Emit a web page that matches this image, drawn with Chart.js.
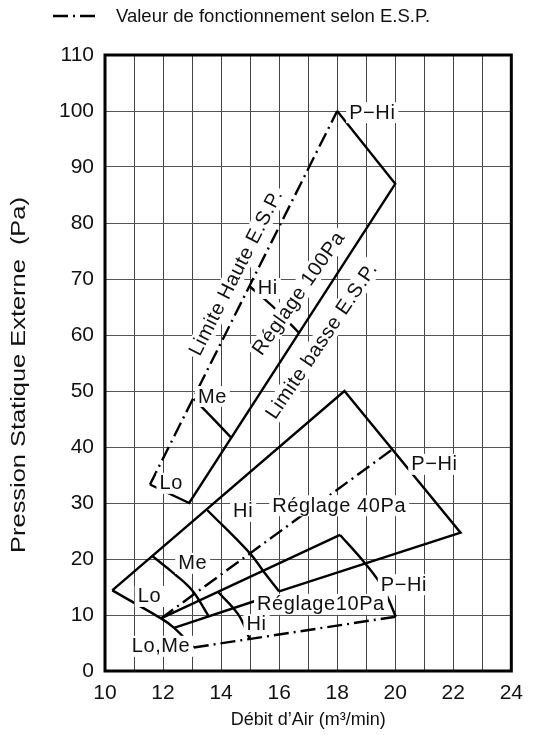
<!DOCTYPE html>
<html>
<head>
<meta charset="utf-8">
<script src="https://cdn.jsdelivr.net/npm/chart.js@4/dist/chart.umd.min.js"></script>
<style>
  html, body { margin: 0; padding: 0; background: #fff; }
  #wrap { width: 533px; height: 735px; }
</style>
</head>
<body>
<div id="wrap"><canvas id="chart-esp"></canvas></div>
<script>
const FONT = '"Liberation Sans", Arial, sans-serif';

// axis ticks
const xTicks = [10, 12, 14, 16, 18, 20, 22, 24];
const yTicks = [0, 10, 20, 30, 40, 50, 60, 70, 80, 90, 100, 110];

// Réglage 100Pa
const outline100 = [{ x: 11.55, y: 33.3 }, { x: 12.9, y: 30 }, { x: 20, y: 87 }, { x: 18, y: 100 }];
const esp100 = [{ x: 11.55, y: 33.3 }, { x: 18, y: 100 }];
const me100 = [{ x: 13.06, y: 48.6 }, { x: 13.7, y: 45.2 }, { x: 14.36, y: 41.6 }];
const hi100 = [{ x: 14.98, y: 68.7 }, { x: 15.8, y: 65.0 }, { x: 16.68, y: 60.4 }];

// Réglage 40Pa
const outline40 = [{ x: 16, y: 14.2 }, { x: 22.25, y: 24.7 }, { x: 18.25, y: 50 }, { x: 10.25, y: 14.4 }];
const lo40 = [{ x: 10.25, y: 14.4 }, { x: 11.93, y: 9.4 }, { x: 12.38, y: 7.7 }, { x: 13.06, y: 4.2 }];
const me40 = [{ x: 11.64, y: 20.5 }, { x: 12.4, y: 17.3 }, { x: 13.0, y: 14.4 }, { x: 13.57, y: 9.8 }];
const hi40 = [{ x: 13.51, y: 28.8 }, { x: 14.98, y: 21.1 }, { x: 15.49, y: 17.6 }, { x: 16, y: 14.2 }];
const esp40 = [{ x: 11.93, y: 9.4 }, { x: 19.91, y: 39.6 }];

// Réglage 10Pa
const top10 = [{ x: 11.93, y: 9.4 }, { x: 18.1, y: 24.3 }];
const pHi10 = [{ x: 18.1, y: 24.3 }, { x: 18.95, y: 19.3 }, { x: 19.57, y: 14.9 }, { x: 20.02, y: 9.7 }];
const mid10 = [{ x: 12.38, y: 7.7 }, { x: 15.4, y: 12.9 }];
const hi10 = [{ x: 13.9, y: 14.1 }, { x: 14.59, y: 10.1 }, { x: 14.98, y: 5.8 }];
const esp10 = [{ x: 13.06, y: 4.2 }, { x: 20.02, y: 9.7 }];

// text on the chart
const chartLabels = [
  { text: "P\u2212Hi", x: 19.21, y: 99.8, angle: 0 },
  { text: "Hi", x: 15.61, y: 68.4, angle: 0 },
  { text: "Me", x: 13.7, y: 49.1, angle: 0 },
  { text: "Lo", x: 12.28, y: 33.6, angle: 0 },
  { text: "Limite Haute E.S.P.", x: 14.5, y: 71.2, angle: -63 },
  { text: "R\u00e9glage 100Pa", x: 16.66, y: 67.5, angle: -55 },
  { text: "Limite basse E.S.P.", x: 17.45, y: 59.0, angle: -56 },
  { text: "Hi", x: 14.76, y: 28.6, angle: 0 },
  { text: "R\u00e9glage 40Pa", x: 18.07, y: 29.6, angle: 0 },
  { text: "P\u2212Hi", x: 21.35, y: 37, angle: 0 },
  { text: "Me", x: 13.02, y: 19.3, angle: 0 },
  { text: "Lo", x: 11.53, y: 13.4, angle: 0 },
  { text: "R\u00e9glage10Pa", x: 17.44, y: 12.0, angle: 0 },
  { text: "P\u2212Hi", x: 20.3, y: 15.5, angle: 0 },
  { text: "Hi", x: 15.22, y: 8.4, angle: 0 },
  { text: "Lo,Me", x: 11.93, y: 4.5, angle: 0 },
];

const DASH_DOT = [15, 5, 2, 5];

function line(data, dashed, tension) {
  return {
    data: data,
    showLine: true,
    borderColor: "#000",
    borderWidth: 2.4,
    borderDash: dashed ? DASH_DOT : [],
    pointRadius: 0,
    tension: tension || 0,
    fill: false,
  };
}

const labelPlugin = {
  id: "espLabels",
  afterDatasetsDraw(chart) {
    const { ctx, scales: { x, y } } = chart;
    ctx.save();
    ctx.font = "20px " + FONT;
    ctx.letterSpacing = "0.6px";
    ctx.textAlign = "center";
    ctx.textBaseline = "middle";
    for (const l of chartLabels) {
      const px = x.getPixelForValue(l.x);
      const py = y.getPixelForValue(l.y);
      ctx.save();
      ctx.translate(px, py);
      ctx.rotate((l.angle * Math.PI) / 180);
      const w = ctx.measureText(l.text).width;
      ctx.fillStyle = "#fff";
      ctx.fillRect(-w / 2 - 3, -10, w + 6, 21);
      ctx.fillStyle = "#111";
      ctx.fillText(l.text, 0, 1);
      ctx.restore();
    }
    ctx.restore();
  },
  afterDraw(chart) {
    const { ctx, chartArea: { left, top, width, height } } = chart;
    ctx.save();
    // frame
    ctx.strokeStyle = "#000";
    ctx.lineWidth = 3;
    ctx.strokeRect(left, top, width, height);
    // legend
    ctx.lineWidth = 2.5;
    ctx.setLineDash(DASH_DOT);
    ctx.beginPath();
    ctx.moveTo(53, 16);
    ctx.lineTo(98, 16);
    ctx.stroke();
    ctx.setLineDash([]);
    ctx.fillStyle = "#111";
    ctx.font = "18.5px " + FONT;
    ctx.textBaseline = "middle";
    ctx.fillText("Valeur de fonctionnement selon E.S.P.", 116, 17);
    // y axis title, drawn stretched like the original
    ctx.save();
    ctx.translate(19, 375);
    ctx.rotate(-Math.PI / 2);
    ctx.scale(1.27, 1);
    ctx.font = "20px " + FONT;
    ctx.textAlign = "center";
    ctx.fillText("Pression Statique Externe  (Pa)", 0, 0);
    ctx.restore();
    ctx.restore();
  },
};

const canvas = document.getElementById("chart-esp");
const chart = new Chart(canvas.getContext("2d"), {
  type: "scatter",
  data: {
    datasets: [
      line(outline100, false),
      line(esp100, true),
      line(me100, false, 0.4),
      line(hi100, false, 0.4),
      line(outline40, false),
      line(lo40, false, 0.3),
      line(me40, false, 0.4),
      line(hi40, false, 0.4),
      line(esp40, true),
      line(top10, false),
      line(pHi10, false, 0.4),
      line(mid10, false),
      line(hi10, false, 0.4),
      line(esp10, true),
    ],
  },
  plugins: [labelPlugin],
  options: {
    responsive: true,
    maintainAspectRatio: false,
    animation: false,
    layout: { padding: { top: 55, right: 16, left: 0, bottom: 0 } },
    plugins: {
      legend: { display: false },
      tooltip: { enabled: false },
    },
    scales: {
      x: {
        type: "linear",
        min: 10,
        max: 24,
        afterFit: function (scale) {
          scale.height = 64;
        },
        afterBuildTicks: function (scale) {
          const t = [];
          for (let v = 10; v <= 24; v++) t.push({ value: v });
          scale.ticks = t;
        },
        grid: { color: "#444", lineWidth: 1, drawTicks: false },
        border: { display: false },
        ticks: {
          autoSkip: false,
          maxRotation: 0,
          padding: 10,
          color: "#111",
          font: { size: 21, family: FONT },
          callback: function (value) {
            return xTicks.includes(value) ? String(value) : "";
          },
        },
        title: {
          display: true,
          text: "D\u00e9bit d\u2019Air (m\u00b3/min)",
          color: "#111",
          font: { size: 18, family: FONT },
          padding: { top: 0, bottom: 4 },
        },
      },
      y: {
        type: "linear",
        min: 0,
        max: 110,
        afterFit: function (scale) {
          scale.width = 105;
        },
        afterBuildTicks: function (scale) {
          scale.ticks = yTicks.map((v) => ({ value: v }));
        },
        grid: { color: "#555", lineWidth: 1, drawTicks: false },
        border: { display: false },
        ticks: {
          padding: 11,
          color: "#111",
          font: { size: 21, family: FONT },
        },
        title: { display: false },
      },
    },
  },
});
</script>
</body>
</html>
